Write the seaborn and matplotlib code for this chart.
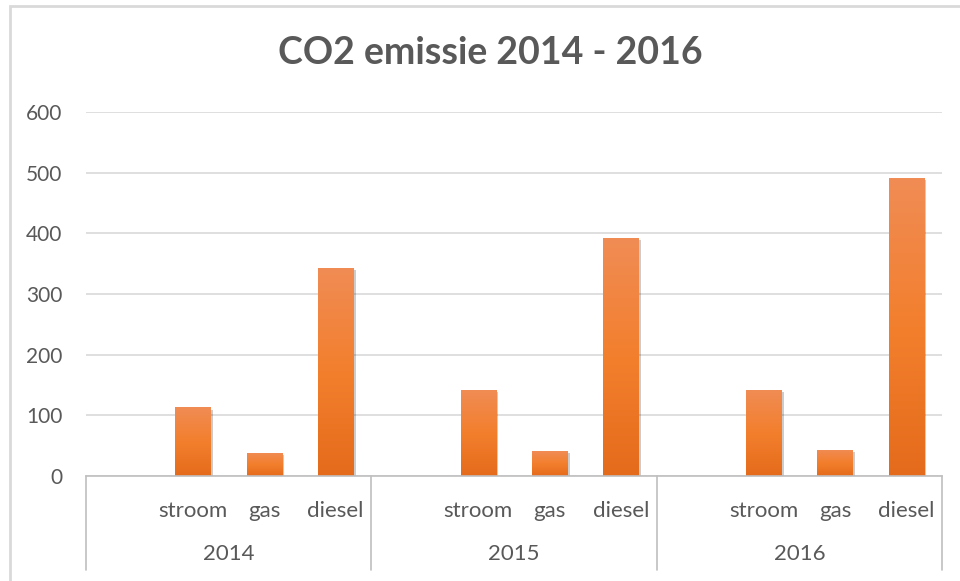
import numpy as np
import pandas as pd
import matplotlib
matplotlib.use("Agg")
import matplotlib.pyplot as plt
import seaborn as sns
from matplotlib.colors import LinearSegmentedColormap
from matplotlib.patches import Rectangle
import matplotlib.patheffects as pe

years = ["2014", "2015", "2016"]
sources = ["stroom", "gas", "diesel"]
stroom = [113, 142, 142]
gas = [38, 41, 43]
diesel = [343, 392, 491]
y_ticks = [0, 100, 200, 300, 400, 500, 600]
title = "CO2 emissie 2014 - 2016"

sns.set_theme(style="white")
plt.rcParams["font.family"] = ["Lato", "DejaVu Sans"]

rows = []
order = []
for i, yr in enumerate(years):
    order.append(f"{yr}|")
    for s, vals in zip(sources, [stroom, gas, diesel]):
        key = f"{yr}|{s}"
        order.append(key)
        rows.append({"slot": key, "value": vals[i]})
df = pd.DataFrame(rows)

fig = plt.figure(figsize=(9.6, 5.81), dpi=100)
W, H = 960, 581
ax = fig.add_axes([86 / W, 1 - 476 / H, (942 - 86) / W, (476 - 112) / H])

sns.barplot(data=df, x="slot", y="value", order=order, color="#F07F2E",
            width=0.5, ax=ax, errorbar=None, saturation=1, linewidth=0)

cmap = LinearSegmentedColormap.from_list("og", ["#E46B1B", "#F37F2D", "#F08C55"])
grad = np.linspace(0, 1, 256).reshape(-1, 1)
for p in ax.patches:
    p.set_linewidth(0)
    p.set_path_effects([pe.SimplePatchShadow(offset=(1.5, -1.5), shadow_rgbFace="#000000", alpha=0.2),
                        pe.Normal()])
    x0, y0 = p.get_x(), p.get_y()
    w, h = p.get_width(), p.get_height()
    im = ax.imshow(grad, extent=[x0, x0 + w, y0, y0 + h], origin="lower",
                   cmap=cmap, aspect="auto", zorder=p.get_zorder() + 0.1)
    im.set_clip_path(p)

ax.set_xlim(-0.5, len(order) - 0.5)
ax.set_ylim(0, 600)
ax.set_yticks(y_ticks)
ax.set_yticklabels([str(v) for v in y_ticks], fontsize=15, color="#595959")
ax.tick_params(axis="y", length=0, pad=17)
ax.yaxis.grid(True, color="#D9D9D9", lw=1.2)
ax.set_axisbelow(True)
for sp in ["left", "right", "top"]:
    ax.spines[sp].set_visible(False)
ax.spines["bottom"].set_color("#BFBFBF")
ax.spines["bottom"].set_linewidth(1.2)

labels = [k.split("|")[1] for k in order]
ax.set_xticks(range(len(order)))
ax.set_xticklabels(labels, fontsize=16, color="#595959")
ax.tick_params(axis="x", length=0, pad=18)
ax.set_xlabel("")
ax.set_ylabel("")

trans = ax.get_xaxis_transform()
yb = -(570 - 476) / (476 - 112)
for g in range(len(years) + 1):
    xb = g * 4 - 0.5
    ax.plot([xb, xb], [0, yb], transform=trans, color="#BFBFBF", lw=1.2, clip_on=False)
for g, yr in enumerate(years):
    xc = (g * 4 - 0.5 + g * 4 + 3.5) / 2
    ax.text(xc, -(554 - 476) / (476 - 112), yr, transform=trans, ha="center", va="center",
            fontsize=16, color="#595959")

fig.text(490 / W, 1 - 53 / H, title, ha="center", va="center", fontsize=27,
         fontweight="bold", color="#595959")

fig.patches.append(Rectangle((10 / W, -0.1), 1.2, 1 - 6 / H + 0.1, transform=fig.transFigure,
                             fill=False, edgecolor="#D9D9D9", lw=2, zorder=0))

fig.savefig("out.png", dpi=100)
